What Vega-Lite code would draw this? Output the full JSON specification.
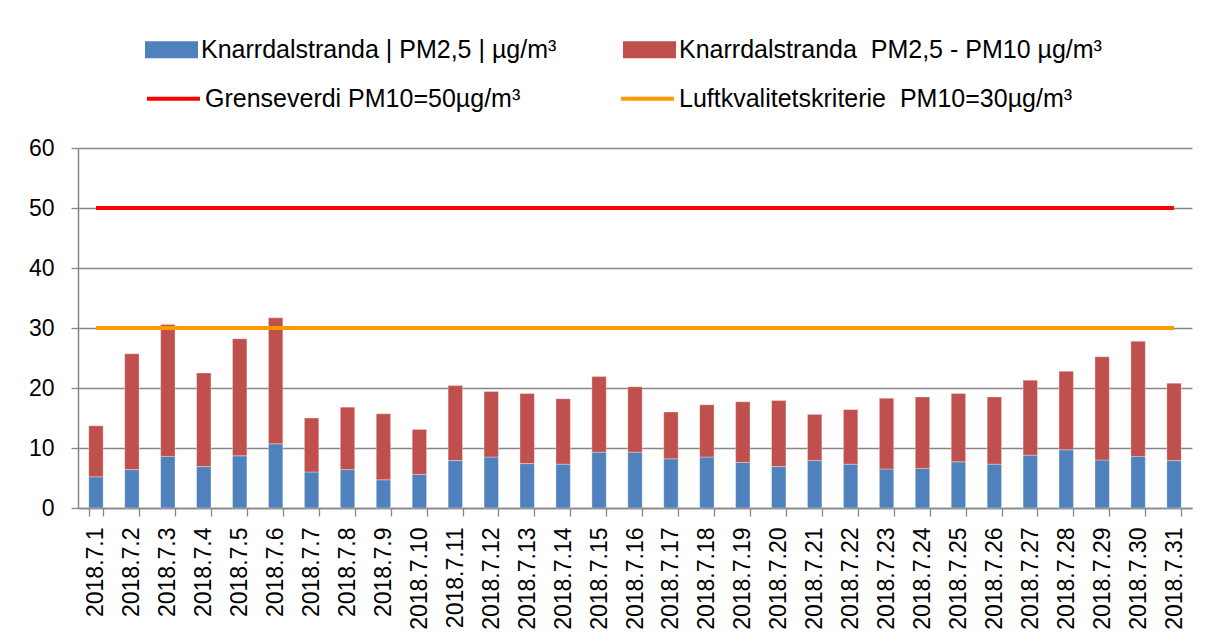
{
  "$schema": "https://vega.github.io/schema/vega-lite/v6.json",
  "width": 1114,
  "height": 360,
  "autosize": {"type": "none"},
  "padding": {"left": 78, "top": 148, "right": 17, "bottom": 135},
  "background": "white",
  "config": {"view": {"stroke": null}, "font": "Liberation Sans"},
  "datasets": {
    "bars": [
      {"date": "2018.7.1", "serie": "Knarrdalstranda | PM2,5 | µg/m³", "value": 5.2},
      {"date": "2018.7.1", "serie": "Knarrdalstranda\u00a0 PM2,5 - PM10 µg/m³", "value": 8.5},
      {"date": "2018.7.2", "serie": "Knarrdalstranda | PM2,5 | µg/m³", "value": 6.4},
      {"date": "2018.7.2", "serie": "Knarrdalstranda\u00a0 PM2,5 - PM10 µg/m³", "value": 19.3},
      {"date": "2018.7.3", "serie": "Knarrdalstranda | PM2,5 | µg/m³", "value": 8.6},
      {"date": "2018.7.3", "serie": "Knarrdalstranda\u00a0 PM2,5 - PM10 µg/m³", "value": 22.0},
      {"date": "2018.7.4", "serie": "Knarrdalstranda | PM2,5 | µg/m³", "value": 6.9},
      {"date": "2018.7.4", "serie": "Knarrdalstranda\u00a0 PM2,5 - PM10 µg/m³", "value": 15.6},
      {"date": "2018.7.5", "serie": "Knarrdalstranda | PM2,5 | µg/m³", "value": 8.7},
      {"date": "2018.7.5", "serie": "Knarrdalstranda\u00a0 PM2,5 - PM10 µg/m³", "value": 19.5},
      {"date": "2018.7.6", "serie": "Knarrdalstranda | PM2,5 | µg/m³", "value": 10.7},
      {"date": "2018.7.6", "serie": "Knarrdalstranda\u00a0 PM2,5 - PM10 µg/m³", "value": 21.0},
      {"date": "2018.7.7", "serie": "Knarrdalstranda | PM2,5 | µg/m³", "value": 6.0},
      {"date": "2018.7.7", "serie": "Knarrdalstranda\u00a0 PM2,5 - PM10 µg/m³", "value": 9.0},
      {"date": "2018.7.8", "serie": "Knarrdalstranda | PM2,5 | µg/m³", "value": 6.4},
      {"date": "2018.7.8", "serie": "Knarrdalstranda\u00a0 PM2,5 - PM10 µg/m³", "value": 10.4},
      {"date": "2018.7.9", "serie": "Knarrdalstranda | PM2,5 | µg/m³", "value": 4.7},
      {"date": "2018.7.9", "serie": "Knarrdalstranda\u00a0 PM2,5 - PM10 µg/m³", "value": 11.0},
      {"date": "2018.7.10", "serie": "Knarrdalstranda | PM2,5 | µg/m³", "value": 5.6},
      {"date": "2018.7.10", "serie": "Knarrdalstranda\u00a0 PM2,5 - PM10 µg/m³", "value": 7.5},
      {"date": "2018.7.11", "serie": "Knarrdalstranda | PM2,5 | µg/m³", "value": 7.9},
      {"date": "2018.7.11", "serie": "Knarrdalstranda\u00a0 PM2,5 - PM10 µg/m³", "value": 12.5},
      {"date": "2018.7.12", "serie": "Knarrdalstranda | PM2,5 | µg/m³", "value": 8.5},
      {"date": "2018.7.12", "serie": "Knarrdalstranda\u00a0 PM2,5 - PM10 µg/m³", "value": 10.9},
      {"date": "2018.7.13", "serie": "Knarrdalstranda | PM2,5 | µg/m³", "value": 7.4},
      {"date": "2018.7.13", "serie": "Knarrdalstranda\u00a0 PM2,5 - PM10 µg/m³", "value": 11.7},
      {"date": "2018.7.14", "serie": "Knarrdalstranda | PM2,5 | µg/m³", "value": 7.3},
      {"date": "2018.7.14", "serie": "Knarrdalstranda\u00a0 PM2,5 - PM10 µg/m³", "value": 10.9},
      {"date": "2018.7.15", "serie": "Knarrdalstranda | PM2,5 | µg/m³", "value": 9.3},
      {"date": "2018.7.15", "serie": "Knarrdalstranda\u00a0 PM2,5 - PM10 µg/m³", "value": 12.6},
      {"date": "2018.7.16", "serie": "Knarrdalstranda | PM2,5 | µg/m³", "value": 9.3},
      {"date": "2018.7.16", "serie": "Knarrdalstranda\u00a0 PM2,5 - PM10 µg/m³", "value": 10.9},
      {"date": "2018.7.17", "serie": "Knarrdalstranda | PM2,5 | µg/m³", "value": 8.2},
      {"date": "2018.7.17", "serie": "Knarrdalstranda\u00a0 PM2,5 - PM10 µg/m³", "value": 7.8},
      {"date": "2018.7.18", "serie": "Knarrdalstranda | PM2,5 | µg/m³", "value": 8.5},
      {"date": "2018.7.18", "serie": "Knarrdalstranda\u00a0 PM2,5 - PM10 µg/m³", "value": 8.7},
      {"date": "2018.7.19", "serie": "Knarrdalstranda | PM2,5 | µg/m³", "value": 7.6},
      {"date": "2018.7.19", "serie": "Knarrdalstranda\u00a0 PM2,5 - PM10 µg/m³", "value": 10.1},
      {"date": "2018.7.20", "serie": "Knarrdalstranda | PM2,5 | µg/m³", "value": 6.9},
      {"date": "2018.7.20", "serie": "Knarrdalstranda\u00a0 PM2,5 - PM10 µg/m³", "value": 11.0},
      {"date": "2018.7.21", "serie": "Knarrdalstranda | PM2,5 | µg/m³", "value": 7.9},
      {"date": "2018.7.21", "serie": "Knarrdalstranda\u00a0 PM2,5 - PM10 µg/m³", "value": 7.7},
      {"date": "2018.7.22", "serie": "Knarrdalstranda | PM2,5 | µg/m³", "value": 7.3},
      {"date": "2018.7.22", "serie": "Knarrdalstranda\u00a0 PM2,5 - PM10 µg/m³", "value": 9.1},
      {"date": "2018.7.23", "serie": "Knarrdalstranda | PM2,5 | µg/m³", "value": 6.5},
      {"date": "2018.7.23", "serie": "Knarrdalstranda\u00a0 PM2,5 - PM10 µg/m³", "value": 11.8},
      {"date": "2018.7.24", "serie": "Knarrdalstranda | PM2,5 | µg/m³", "value": 6.6},
      {"date": "2018.7.24", "serie": "Knarrdalstranda\u00a0 PM2,5 - PM10 µg/m³", "value": 11.9},
      {"date": "2018.7.25", "serie": "Knarrdalstranda | PM2,5 | µg/m³", "value": 7.7},
      {"date": "2018.7.25", "serie": "Knarrdalstranda\u00a0 PM2,5 - PM10 µg/m³", "value": 11.4},
      {"date": "2018.7.26", "serie": "Knarrdalstranda | PM2,5 | µg/m³", "value": 7.3},
      {"date": "2018.7.26", "serie": "Knarrdalstranda\u00a0 PM2,5 - PM10 µg/m³", "value": 11.2},
      {"date": "2018.7.27", "serie": "Knarrdalstranda | PM2,5 | µg/m³", "value": 8.8},
      {"date": "2018.7.27", "serie": "Knarrdalstranda\u00a0 PM2,5 - PM10 µg/m³", "value": 12.5},
      {"date": "2018.7.28", "serie": "Knarrdalstranda | PM2,5 | µg/m³", "value": 9.7},
      {"date": "2018.7.28", "serie": "Knarrdalstranda\u00a0 PM2,5 - PM10 µg/m³", "value": 13.1},
      {"date": "2018.7.29", "serie": "Knarrdalstranda | PM2,5 | µg/m³", "value": 8.0},
      {"date": "2018.7.29", "serie": "Knarrdalstranda\u00a0 PM2,5 - PM10 µg/m³", "value": 17.2},
      {"date": "2018.7.30", "serie": "Knarrdalstranda | PM2,5 | µg/m³", "value": 8.6},
      {"date": "2018.7.30", "serie": "Knarrdalstranda\u00a0 PM2,5 - PM10 µg/m³", "value": 19.2},
      {"date": "2018.7.31", "serie": "Knarrdalstranda | PM2,5 | µg/m³", "value": 7.9},
      {"date": "2018.7.31", "serie": "Knarrdalstranda\u00a0 PM2,5 - PM10 µg/m³", "value": 12.9}
    ],
    "limits": [
      {"serie": "Grenseverdi PM10=50µg/m³", "limit": 50, "start": "2018.7.1", "end": "2018.7.31"},
      {"serie": "Luftkvalitetskriterie\u00a0 PM10=30µg/m³", "limit": 30, "start": "2018.7.1", "end": "2018.7.31"}
    ]
  },
  "layer": [
    {
      "data": {"name": "bars"},
      "mark": {"type": "bar", "stroke": "#ffffff", "strokeOpacity": 0.4, "strokeWidth": 0.8},
      "encoding": {
        "x": {
          "field": "date",
          "type": "nominal",
          "title": null,
          "scale": {
            "domain": ["2018.7.1","2018.7.2","2018.7.3","2018.7.4","2018.7.5","2018.7.6","2018.7.7","2018.7.8","2018.7.9","2018.7.10","2018.7.11","2018.7.12","2018.7.13","2018.7.14","2018.7.15","2018.7.16","2018.7.17","2018.7.18","2018.7.19","2018.7.20","2018.7.21","2018.7.22","2018.7.23","2018.7.24","2018.7.25","2018.7.26","2018.7.27","2018.7.28","2018.7.29","2018.7.30","2018.7.31"],
            "paddingInner": 0.6,
            "paddingOuter": 0.3
          },
          "axis": {
            "orient": "bottom",
            "labelAngle": 270,
            "labelFontSize": 23,
            "labelFont": "Liberation Sans",
            "labelColor": "black",
            "tickBand": "extent",
            "tickSize": 8,
            "tickColor": "#868686",
            "tickWidth": 1.3,
            "domainColor": "#868686",
            "domainWidth": 1.5,
            "labelPadding": 11,
            "grid": false
          }
        },
        "y": {
          "field": "value",
          "type": "quantitative",
          "stack": "zero",
          "title": null,
          "scale": {"domain": [0, 60], "nice": false},
          "axis": {
            "values": [0, 10, 20, 30, 40, 50, 60],
            "labelFontSize": 23,
            "labelFont": "Liberation Sans",
            "labelColor": "black",
            "tickSize": 7,
            "tickColor": "#868686",
            "tickWidth": 1.3,
            "domainColor": "#868686",
            "domainWidth": 1.5,
            "gridColor": "#868686",
            "gridWidth": 1.3,
            "grid": true,
            "labelPadding": 17
          }
        },
        "fill": {
          "field": "serie",
          "type": "nominal",
          "scale": {
            "domain": ["Knarrdalstranda | PM2,5 | µg/m³", "Knarrdalstranda\u00a0 PM2,5 - PM10 µg/m³"],
            "range": ["#4F81BD", "#C0504D"]
          },
          "legend": {
            "title": null,
            "orient": "none",
            "legendX": 67,
            "legendY": -125,
            "direction": "horizontal",
            "padding": 0,
            "labelFontSize": 25,
            "labelFont": "Liberation Sans",
            "labelColor": "black",
            "labelLimit": 700,
            "labelOffset": 3,
            "symbolType": "M-1,-0.32H1V0.32H-1Z",
            "symbolSize": 2809,
            "symbolStrokeWidth": 0,
            "symbolOpacity": 1,
            "columnPadding": 66
          }
        },
        "order": {"field": "serie", "sort": "ascending"}
      }
    },
    {
      "data": {"name": "limits"},
      "mark": {"type": "rule", "strokeWidth": 4},
      "encoding": {
        "x": {"field": "start", "type": "nominal"},
        "x2": {"field": "end"},
        "y": {"field": "limit", "type": "quantitative"},
        "stroke": {
          "field": "serie",
          "type": "nominal",
          "scale": {
            "domain": ["Grenseverdi PM10=50µg/m³", "Luftkvalitetskriterie\u00a0 PM10=30µg/m³"],
            "range": ["#FF0000", "#FF9900"]
          },
          "legend": {
            "title": null,
            "orient": "none",
            "legendX": 67,
            "legendY": -78,
            "direction": "horizontal",
            "padding": 0,
            "labelFontSize": 25,
            "labelFont": "Liberation Sans",
            "labelColor": "black",
            "labelLimit": 700,
            "labelOffset": 3,
            "symbolType": "stroke",
            "symbolSize": 2809,
            "symbolStrokeWidth": 4,
            "symbolOpacity": 1,
            "columnPadding": 92
          }
        }
      }
    }
  ]
}
